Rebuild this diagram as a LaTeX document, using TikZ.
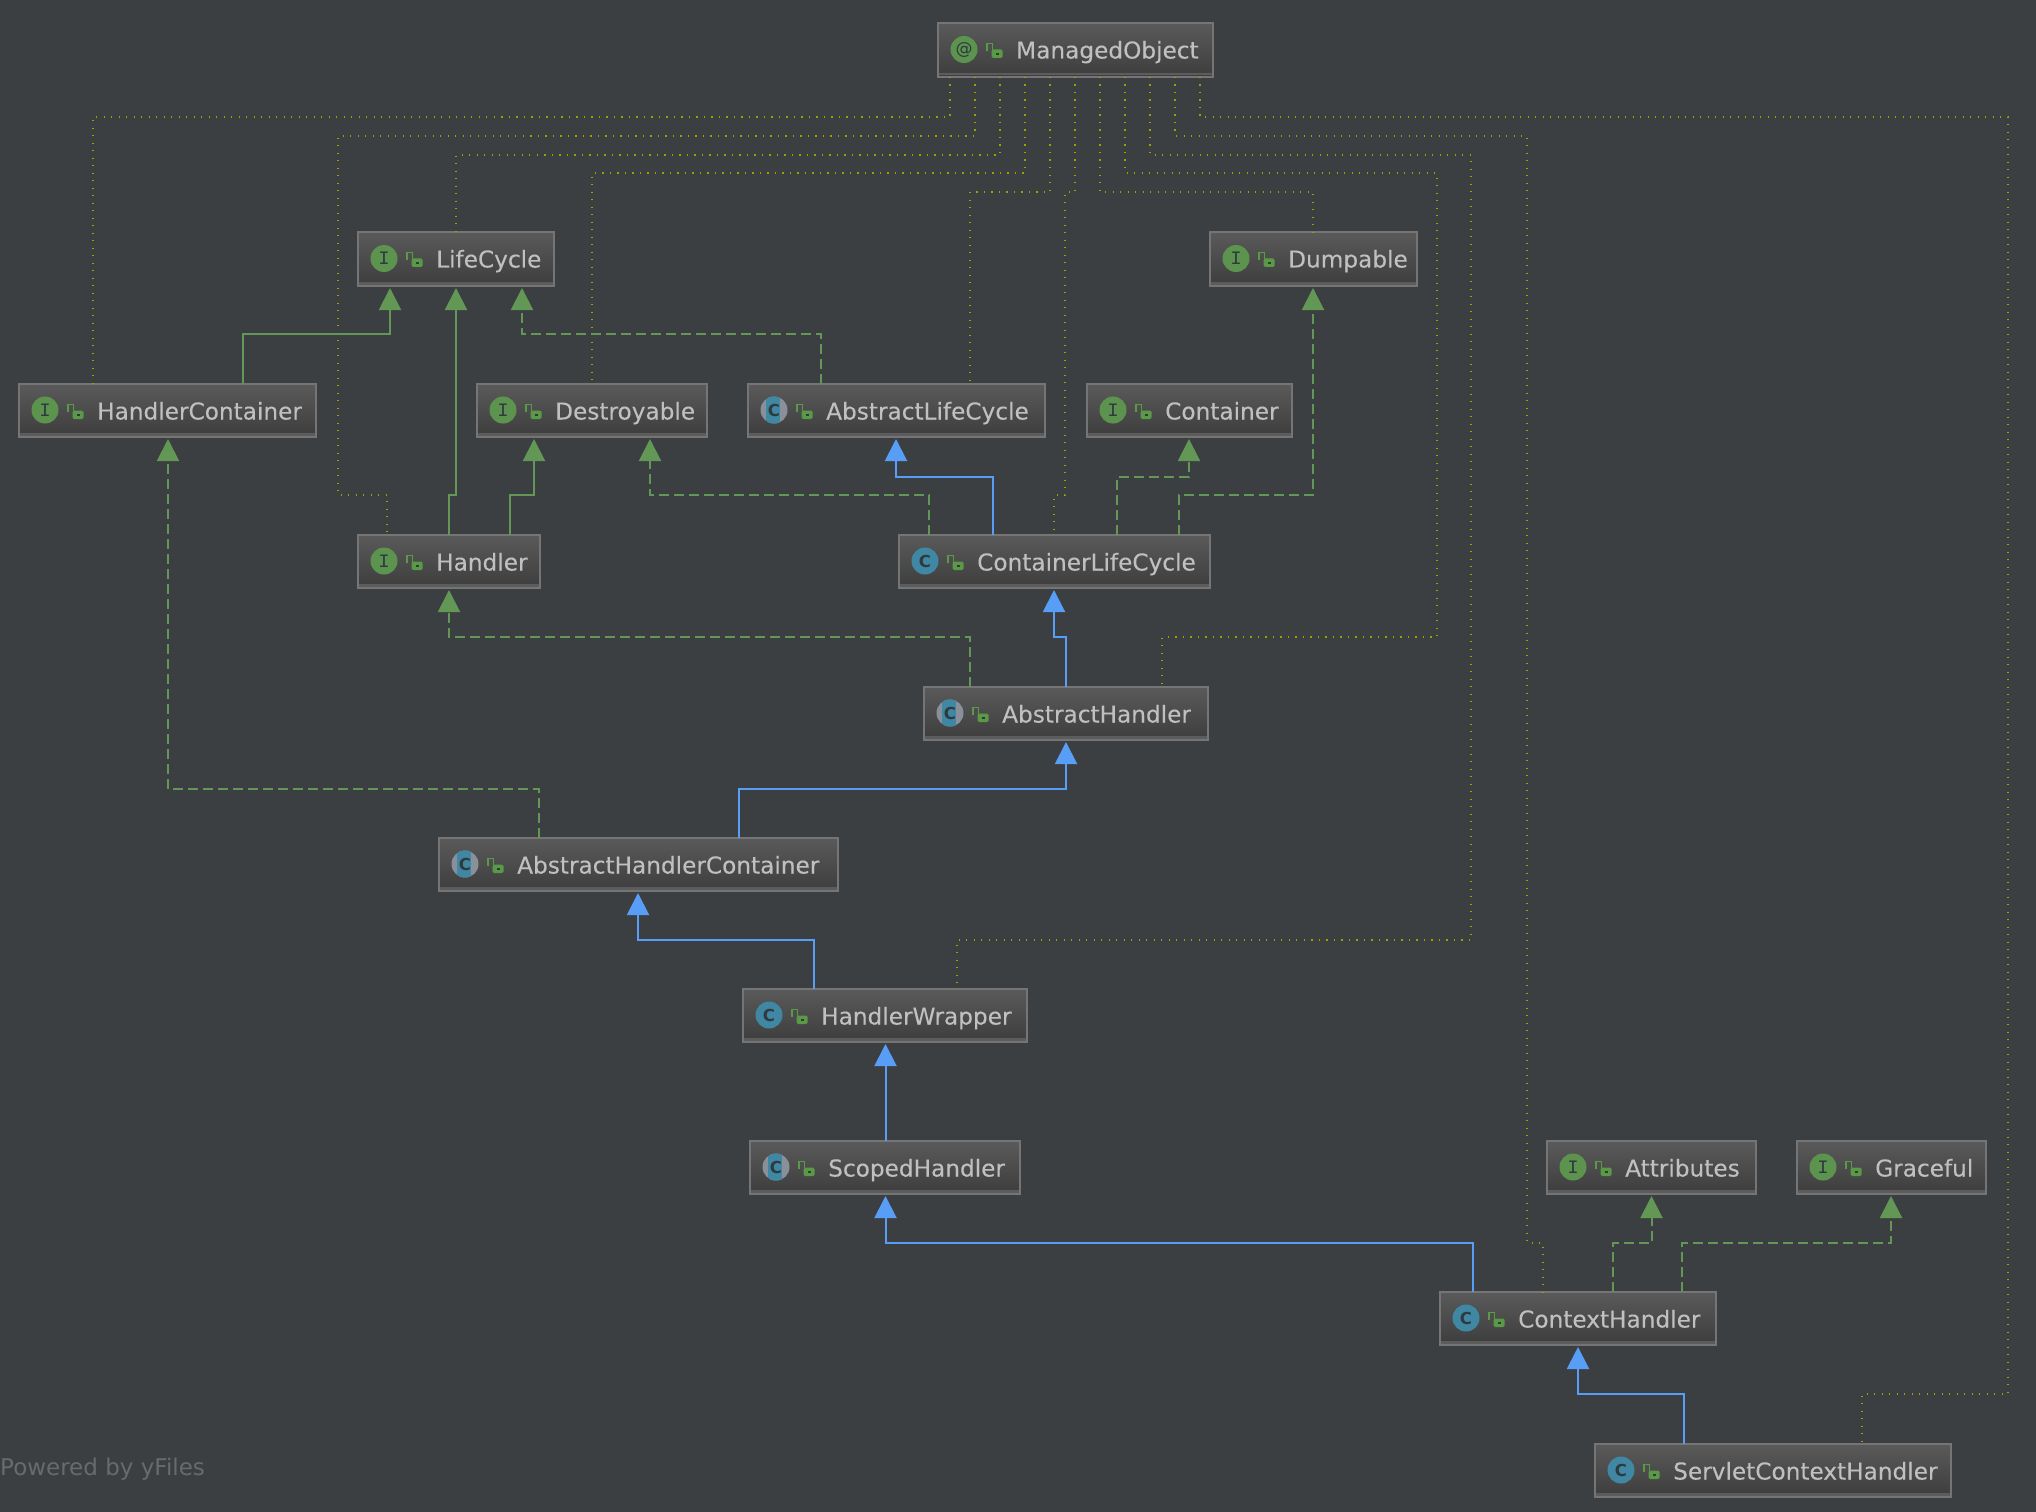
\documentclass[tikz,border=0pt]{standalone}
\usepackage{fontspec}
\setmainfont{DejaVu Sans}
\newfontfamily\iconmono{Liberation Mono}
\newfontfamily\labelfont[FakeBold=0.12]{DejaVu Sans}
\usetikzlibrary{arrows.meta}
\definecolor{bgc}{HTML}{3C3F41}
\definecolor{edgegreen}{HTML}{629755}
\definecolor{edgeblue}{HTML}{589DF6}
\definecolor{dotc}{HTML}{A0A000}
\definecolor{boxline}{HTML}{757575}
\definecolor{boxtop}{HTML}{5A5A5A}
\definecolor{boxbot}{HTML}{3D3D3D}
\definecolor{boxband}{HTML}{5C5C5C}
\definecolor{labelc}{HTML}{C0C0C0}
\definecolor{igreen}{HTML}{5C944F}
\definecolor{cteal}{HTML}{3F87A3}
\definecolor{agrey}{HTML}{8A9099}
\definecolor{lockc}{HTML}{5A9A46}
\definecolor{glyphc}{HTML}{2E3A3E}
\definecolor{footc}{HTML}{686B6E}
\tikzset{
  umlbox/.style={rectangle,draw=boxline,line width=2bp,top color=boxtop,bottom color=boxbot,inner sep=0pt,outer sep=0pt},
  umllabel/.style={anchor=base west,inner sep=0pt,text=labelc,font=\labelfont\fontsize{23.2bp}{28bp}\selectfont},
  iconglyph/.style={inner sep=0pt,text=glyphc},
  extends/.style={draw=edgegreen,line width=2bp,-{Triangle[width=22bp,length=22bp]},shorten >=2bp},
  implements/.style={extends,dash pattern=on 10bp off 5bp},
  parentclass/.style={draw=edgeblue,line width=2bp,-{Triangle[width=22bp,length=22bp]},shorten >=2bp},
  dotlink/.style={draw=dotc,line width=1.4bp,dash pattern=on 1.4bp off 6.1bp},
}
\newcommand\iconI[3]{\fill[igreen] (#2,#3) circle[radius=13.5];
  \node[iconglyph,font=\iconmono\fontsize{19bp}{19bp}\selectfont] (#1-i) at (#2,#3) {I};}
\newcommand\iconAt[3]{\fill[igreen] (#2,#3) circle[radius=13.5];
  \node[iconglyph,font=\fontsize{17bp}{17bp}\selectfont] (#1-i) at (#2,#3) {@};}
\newcommand\iconC[3]{\fill[cteal] (#2,#3) circle[radius=13.5];
  \node[iconglyph,font=\bfseries\fontsize{16.5bp}{16.5bp}\selectfont] (#1-i) at (#2,#3) {C};}
\newcommand\iconA[3]{\fill[agrey] (#2,#3) circle[radius=13.5];
  \begin{scope}\clip (#2,#3) circle[radius=13.5];
  \fill[cteal] ({#2-8},{#3-14}) rectangle ({#2+6},{#3+14});\end{scope}
  \node[iconglyph,font=\bfseries\fontsize{16.5bp}{16.5bp}\selectfont] (#1-i) at (#2,#3) {C};}
\newcommand\umlnode[7]{%
  \pgfmathsetmacro\umlw{#4-#2}\pgfmathsetmacro\umlh{#5-#3}%
  \pgfmathsetmacro\icx{#2+26}\pgfmathsetmacro\icy{(#3+#5)/2-0.5}%
  \node[umlbox,minimum width=\umlw bp,minimum height=\umlh bp] (#1) at ({(#2+#4)/2},{(#3+#5)/2}) {};
  \fill[boxband] ({#2+1},{#5-4}) rectangle ({#4-1},{#5-1.5});
  #6{#1}{\icx}{\icy}
  \draw[lockc,line width=1.6bp] ({#2+49},{#3+28}) -- ({#2+49},{#3+20.5}) -- ({#2+54.5},{#3+20.5}) -- ({#2+54.5},{#3+27});
  \fill[lockc,rounded corners=1.5bp] ({#2+53.5},{#3+26.5}) rectangle ({#2+64.5},{#3+35});
  \fill[glyphc] ({#2+57.5},{#3+30}) rectangle ({#2+60.5},{#3+32});
  \node[umllabel] (#1-t) at ({#2+78},{#3+35.5}) {#7};
}
\begin{document}
\begin{tikzpicture}[x=1bp,y=-1bp]
\fill[bgc] (0,0) rectangle (2036,1512);
\useasboundingbox (0,0) rectangle (2036,1512);
\umlnode{mo}{938}{23}{1213}{77}{\iconAt}{ManagedObject}
\umlnode{lc}{358}{232}{554}{286}{\iconI}{LifeCycle}
\umlnode{dp}{1210}{232}{1417}{286}{\iconI}{Dumpable}
\umlnode{hc}{19}{384}{316}{437}{\iconI}{HandlerContainer}
\umlnode{ds}{477}{384}{707}{437}{\iconI}{Destroyable}
\umlnode{al}{748}{384}{1045}{437}{\iconA}{AbstractLifeCycle}
\umlnode{ct}{1087}{384}{1292}{437}{\iconI}{Container}
\umlnode{ha}{358}{535}{540}{588}{\iconI}{Handler}
\umlnode{cl}{899}{535}{1210}{588}{\iconC}{ContainerLifeCycle}
\umlnode{ah}{924}{687}{1208}{740}{\iconA}{AbstractHandler}
\umlnode{ac}{439}{838}{838}{891}{\iconA}{AbstractHandlerContainer}
\umlnode{hw}{743}{989}{1027}{1042}{\iconC}{HandlerWrapper}
\umlnode{sh}{750}{1141}{1020}{1194}{\iconA}{ScopedHandler}
\umlnode{at}{1547}{1141}{1756}{1194}{\iconI}{Attributes}
\umlnode{gr}{1797}{1141}{1986}{1194}{\iconI}{Graceful}
\umlnode{cx}{1440}{1292}{1716}{1345}{\iconC}{ContextHandler}
\umlnode{sc}{1595}{1444}{1951}{1497}{\iconC}{ServletContextHandler}
\node[anchor=base west,inner sep=0pt,text=footc,font=\fontsize{23bp}{26bp}\selectfont] (foot) at (0,1475) {Powered by yFiles};
% dependency lines
\draw[dotlink] (mo.south -| 950,0) -- (950,117) -- (93,117) -- (hc.north -| 93,0);
\draw[dotlink] (mo.south -| 975,0) -- (975,136) -- (338,136) -- (338,495) -- (387,495) -- (ha.north -| 387,0);
\draw[dotlink] (mo.south -| 1000,0) -- (1000,155) -- (456,155) -- (lc.north -| 456,0);
\draw[dotlink] (mo.south -| 1025,0) -- (1025,173) -- (592,173) -- (ds.north -| 592,0);
\draw[dotlink] (mo.south -| 1050,0) -- (1050,192) -- (970,192) -- (al.north -| 970,0);
\draw[dotlink] (mo.south -| 1075,0) -- (1075,192) -- (1065,192) -- (1065,495) -- (1054,495) -- (cl.north -| 1054,0);
\draw[dotlink] (mo.south -| 1100,0) -- (1100,192) -- (1313,192) -- (dp.north -| 1313,0);
\draw[dotlink] (mo.south -| 1125,0) -- (1125,173) -- (1437,173) -- (1437,637) -- (1162,637) -- (ah.north -| 1162,0);
\draw[dotlink] (mo.south -| 1150,0) -- (1150,155) -- (1471,155) -- (1471,940) -- (957,940) -- (hw.north -| 957,0);
\draw[dotlink] (mo.south -| 1175,0) -- (1175,136) -- (1527,136) -- (1527,1243) -- (1543,1243) -- (cx.north -| 1543,0);
\draw[dotlink] (mo.south -| 1200,0) -- (1200,117) -- (2008,117) -- (2008,1394) -- (1862,1394) -- (sc.north -| 1862,0);
% inheritance and realisation
\draw[extends] (hc.north -| 243,0) -- (243,334) -- (390,334) -- (lc.south -| 390,0);
\draw[extends] (ha.north -| 449,0) -- (449,495) -- (456,495) -- (lc.south -| 456,0);
\draw[extends] (ha.north -| 510,0) -- (510,495) -- (534,495) -- (ds.south -| 534,0);
\draw[implements] (al.north -| 821,0) -- (821,334) -- (522,334) -- (lc.south -| 522,0);
\draw[implements] (cl.north -| 929,0) -- (929,495) -- (650,495) -- (ds.south -| 650,0);
\draw[parentclass] (cl.north -| 993,0) -- (993,477) -- (896,477) -- (al.south -| 896,0);
\draw[implements] (cl.north -| 1117,0) -- (1117,477) -- (1189,477) -- (ct.south -| 1189,0);
\draw[implements] (cl.north -| 1179,0) -- (1179,495) -- (1313,495) -- (dp.south -| 1313,0);
\draw[implements] (ah.north -| 970,0) -- (970,637) -- (449,637) -- (ha.south -| 449,0);
\draw[parentclass] (ah.north -| 1066,0) -- (1066,637) -- (1054,637) -- (cl.south -| 1054,0);
\draw[implements] (ac.north -| 539,0) -- (539,789) -- (168,789) -- (hc.south -| 168,0);
\draw[parentclass] (ac.north -| 739,0) -- (739,789) -- (1066,789) -- (ah.south -| 1066,0);
\draw[parentclass] (hw.north -| 814,0) -- (814,940) -- (638,940) -- (ac.south -| 638,0);
\draw[parentclass] (sh.north -| 885.5,0) -- (hw.south -| 885.5,0);
\draw[parentclass] (cx.north -| 1473,0) -- (1473,1243) -- (885.5,1243) -- (sh.south -| 885.5,0);
\draw[implements] (cx.north -| 1612.5,0) -- (1612.5,1243) -- (1651.5,1243) -- (at.south -| 1651.5,0);
\draw[implements] (cx.north -| 1682,0) -- (1682,1243) -- (1891,1243) -- (gr.south -| 1891,0);
\draw[parentclass] (sc.north -| 1684,0) -- (1684,1394) -- (1578,1394) -- (cx.south -| 1578,0);
\end{tikzpicture}
\end{document}
